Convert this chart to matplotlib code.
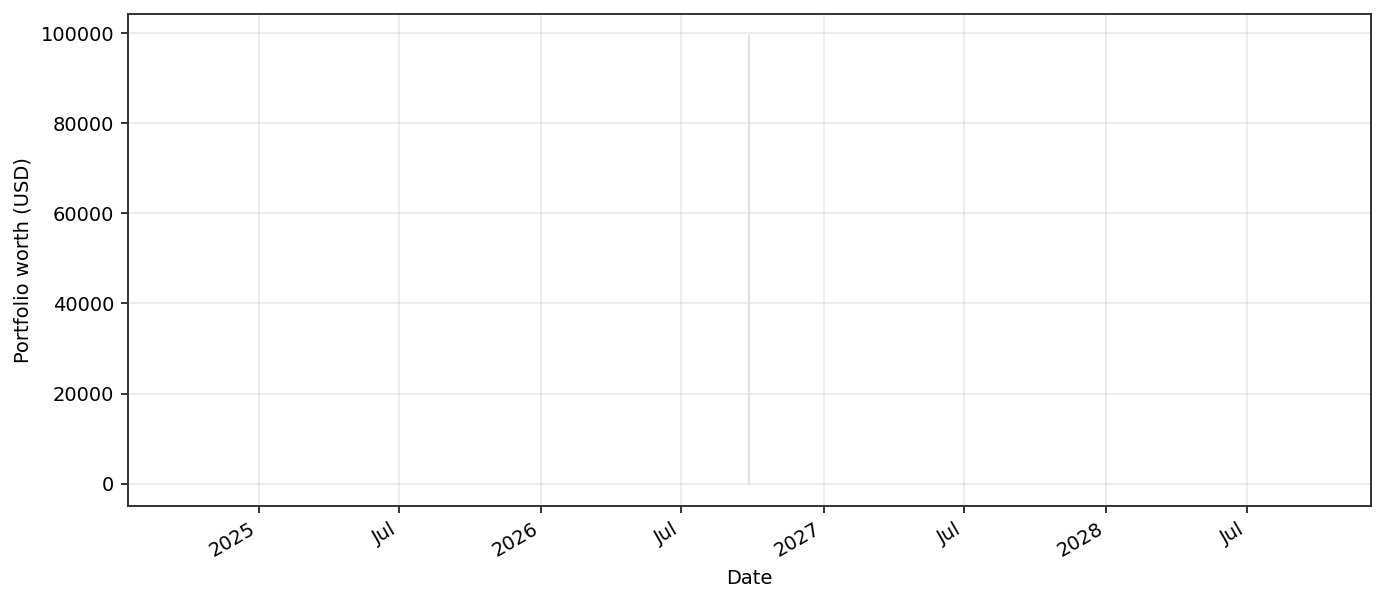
import matplotlib
matplotlib.use('Agg')
import matplotlib.pyplot as plt
import matplotlib.dates as mdates
import pandas as pd

# Portfolio snapshot: every point falls on the same day
dates = ['2026-09-27', '2026-09-27', '2026-09-27']
worth = [99300, 50000, 0]

df = pd.DataFrame({'date': pd.to_datetime(dates), 'worth': worth})

fig, ax = plt.subplots(figsize=(1385 / 140, 602 / 140), dpi=140)
fig.subplots_adjust(left=0.0924, right=0.9899, top=0.9767, bottom=0.1595)

ax.plot(df['date'], df['worth'], color='#e0e0ea', linewidth=1.1)

locator = mdates.AutoDateLocator()
ax.xaxis.set_major_locator(locator)
ax.xaxis.set_major_formatter(mdates.ConciseDateFormatter(locator))

ax.set_xlabel('Date')
ax.set_ylabel('Portfolio worth (USD)')
ax.grid(alpha=0.3)
for s in ax.spines.values():
    s.set_color('#333333')
    s.set_linewidth(1.0)
ax.tick_params(color='#333333', width=1.0)

for lbl in ax.get_xticklabels():
    lbl.set_rotation(30)
    lbl.set_ha('right')

fig.savefig('out.png', dpi=140)
plt.close()
